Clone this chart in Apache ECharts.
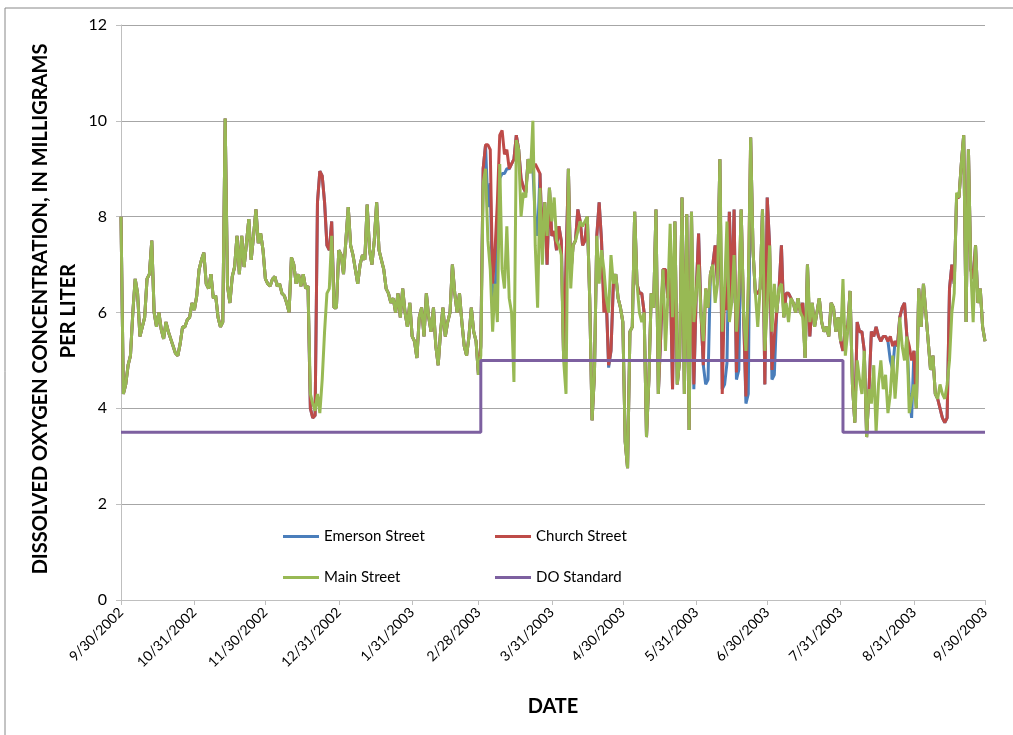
<!DOCTYPE html>
<html>
<head>
<meta charset="utf-8">
<script src="https://cdn.jsdelivr.net/npm/echarts@6/dist/echarts.min.js"></script>
<style>
  html, body { margin: 0; padding: 0; background: #fff; }
  #chart { width: 1013px; height: 735px; }
</style>
</head>
<body>
<div id="chart"></div>
<script>
// x ticks (month ends)
const monthEnds = ['9/30/2002', '10/31/2002', '11/30/2002', '12/31/2002', '1/31/2003', '2/28/2003',
  '3/31/2003', '4/30/2003', '5/31/2003', '6/30/2003', '7/31/2003', '8/31/2003', '9/30/2003'];

// one category per day, 9/30/2002 .. 9/30/2003
const dates = [];
for (let i = 0; i < 366; i++) {
  const d = new Date(2002, 8, 30 + i);
  dates.push((d.getMonth() + 1) + '/' + d.getDate() + '/' + d.getFullYear());
}

const mainStreet = [
  8.0, 4.3, 4.5, 4.9, 5.1, 6.0, 6.7, 6.4, 5.5, 5.7,
  5.9, 6.7, 6.8, 7.5, 6.0, 5.7, 6.0, 5.65, 5.45, 5.8,
  5.6, 5.45, 5.3, 5.15, 5.1, 5.35, 5.7, 5.7, 5.85, 5.9,
  6.2, 6.05, 6.35, 6.9, 7.1, 7.25, 6.6, 6.5, 6.8, 6.3,
  6.35, 5.9, 5.7, 5.8, 10.05, 6.55, 6.2, 6.75, 6.95, 7.6,
  6.8, 7.6, 6.95, 7.45, 7.95, 7.1, 7.6, 8.15, 7.45, 7.65,
  7.3, 6.7, 6.6, 6.55, 6.7, 6.75, 6.55, 6.6, 6.4, 6.35,
  6.2, 6.0, 7.15, 7.0, 6.6, 6.8, 6.55, 6.8, 6.5, 6.55,
  4.3, 4.1, 3.95, 4.3, 3.9, 4.6, 5.6, 6.4, 6.5, 7.6,
  6.1, 6.1, 7.3, 7.2, 6.8, 7.5, 8.2, 7.4, 7.2, 6.9,
  6.6, 7.0, 7.2, 7.1, 8.25, 7.3, 7.0, 7.5, 8.3, 7.3,
  7.1, 6.9, 6.5, 6.4, 6.2, 6.3, 6.0, 6.4, 5.9, 6.5,
  6.0, 5.7, 6.2, 5.5, 5.4, 5.05, 5.9, 6.1, 5.5, 6.4,
  5.9, 5.6, 6.1, 5.3, 4.9, 5.6, 6.1, 5.5, 5.8, 6.0,
  7.0, 6.4, 6.0, 6.4, 5.8, 5.3, 5.1, 5.5, 6.1, 5.6,
  5.4, 4.7, 5.1, 8.7, 9.0, 7.5, 6.9, 5.6, 6.6, 5.8,
  9.1, 6.9, 6.5, 7.8, 6.3, 6.0, 4.55, 9.6, 9.4, 8.0,
  8.5, 8.4, 9.2, 8.9, 10.0, 7.4, 6.1, 8.6, 7.0, 8.3,
  7.6, 8.6, 7.9, 8.4, 7.5, 7.4, 7.2, 5.0, 4.3, 9.0,
  6.5, 7.4, 7.5, 7.7, 7.9, 7.8, 7.9, 8.0, 6.3, 3.75,
  4.7, 7.6, 6.6, 7.3, 6.9, 6.3, 6.0, 7.2, 6.6, 6.8,
  6.3, 6.1, 5.8, 3.3, 2.75, 5.6, 5.7, 8.1, 6.6, 6.0,
  5.8, 6.0, 3.4, 4.6, 6.4, 6.1, 8.15, 4.3, 6.1, 6.9,
  5.2, 6.3, 7.85, 5.9, 7.9, 4.5, 5.0, 8.4, 4.3, 8.05,
  3.55, 8.1, 5.8, 6.4, 7.0, 6.0, 5.4, 6.5, 6.1, 6.8,
  7.0, 6.2, 6.6, 9.2, 5.6, 6.5, 7.9, 5.8, 6.2, 7.2,
  5.6, 6.4, 8.15, 6.0, 5.2, 6.5, 9.65, 7.3, 6.4, 5.7,
  6.5, 8.15, 5.2, 6.1, 7.4, 5.6, 6.6, 6.0, 6.5, 6.6,
  5.9, 6.2, 5.8, 6.3, 6.2, 6.0, 6.3, 6.0, 5.9, 5.05,
  7.0, 5.8, 6.2, 5.7, 6.0, 6.3, 5.8, 5.6, 5.7, 5.5,
  6.2, 6.1, 5.6, 5.9, 5.4, 6.7, 5.1, 5.6, 6.45, 4.5,
  3.7, 5.0, 4.6, 4.3, 5.2, 3.4, 4.4, 4.1, 4.9, 3.5,
  4.5, 5.0, 4.4, 4.7, 3.9, 4.3, 5.1, 4.2, 4.9, 5.9,
  5.3, 5.0, 5.5, 3.9, 4.2, 4.5, 4.0, 6.5, 5.7, 6.6,
  6.0, 5.4, 4.8, 5.1, 4.3, 4.2, 4.5, 4.3, 4.2, 4.5,
  5.0, 6.0, 6.4, 8.5, 8.4, 9.1, 9.7, 5.8, 9.4, 6.9,
  5.8, 7.4, 6.2, 6.5, 5.7, 5.4
];

const churchStreet = [
  8.0, 4.3, 4.5, 4.9, 5.1, 6.0, 6.7, 6.4, 5.5, 5.7,
  5.9, 6.7, 6.8, 7.5, 6.0, 5.7, 6.0, 5.65, 5.45, 5.8,
  5.6, 5.45, 5.3, 5.15, 5.1, 5.35, 5.7, 5.7, 5.85, 5.9,
  6.2, 6.05, 6.35, 6.9, 7.1, 7.25, 6.6, 6.5, 6.8, 6.3,
  6.35, 5.9, 5.7, 5.8, 10.05, 6.55, 6.2, 6.75, 6.95, 7.6,
  6.8, 7.6, 6.95, 7.45, 7.95, 7.1, 7.6, 8.15, 7.45, 7.65,
  7.3, 6.7, 6.6, 6.55, 6.7, 6.75, 6.55, 6.6, 6.4, 6.35,
  6.2, 6.0, 7.15, 7.0, 6.6, 6.8, 6.55, 6.8, 6.5, 6.55,
  4.0, 3.8, 3.85, 8.3, 8.95, 8.85, 8.3, 7.4, 7.3, 7.9,
  6.1, 6.1, 7.3, 7.2, 6.8, 7.5, 8.2, 7.4, 7.2, 6.9,
  6.6, 7.0, 7.2, 7.1, 8.25, 7.3, 7.0, 7.5, 8.3, 7.3,
  7.1, 6.9, 6.5, 6.4, 6.2, 6.3, 6.0, 6.4, 5.9, 6.5,
  6.0, 5.7, 6.2, 5.5, 5.4, 5.05, 5.9, 6.1, 5.5, 6.4,
  5.9, 5.6, 6.1, 5.3, 4.9, 5.6, 6.1, 5.5, 5.8, 6.0,
  7.0, 6.4, 6.0, 6.4, 5.8, 5.3, 5.1, 5.5, 6.1, 5.6,
  5.4, 4.7, 5.3, 9.0, 9.5, 9.5, 9.4, 6.6, 7.3, 8.3,
  9.7, 9.8, 9.3, 9.4, 9.0, 9.1, 9.2, 9.7, 9.4, 8.8,
  8.6, 8.5, 9.2, 9.0, 9.0, 9.1, 9.0, 8.9, 7.4, 8.3,
  7.0, 8.6, 7.6, 7.7, 7.3, 7.8, 7.5, 5.0, 7.0, 9.0,
  6.8, 7.4, 7.5, 8.15, 7.9, 7.4, 7.5, 8.0, 6.3, 3.75,
  4.7, 7.6, 8.3, 7.5, 6.0, 6.3, 4.9, 5.2, 6.6, 6.8,
  6.3, 6.1, 5.8, 3.3, 2.75, 5.6, 5.7, 8.1, 6.6, 6.4,
  6.4, 6.0, 3.4, 4.6, 6.4, 6.1, 8.15, 4.3, 5.5, 6.9,
  6.9, 6.3, 6.9, 4.4, 7.9, 4.5, 5.0, 8.4, 4.3, 8.05,
  3.55, 8.1, 4.5, 6.4, 7.65, 6.0, 4.9, 6.5, 6.1, 6.8,
  7.0, 7.4, 6.6, 9.2, 4.3, 6.5, 6.05, 8.1, 6.2, 8.15,
  4.75, 6.4, 8.15, 6.0, 4.25, 6.5, 9.65, 7.3, 6.4, 6.4,
  6.5, 8.15, 4.5, 8.4, 7.4, 4.8, 5.5, 6.0, 6.5, 7.4,
  5.9, 6.4, 6.4, 6.3, 6.2, 6.0, 6.3, 6.0, 6.2, 5.05,
  7.0, 5.5, 6.2, 5.7, 6.0, 6.3, 5.8, 5.6, 5.7, 5.5,
  6.2, 6.1, 5.6, 5.9, 5.4, 5.2, 5.7, 5.7, 6.45, 4.5,
  3.7, 5.8, 5.6, 5.6, 5.2, 3.4, 4.4, 5.6, 5.5, 5.7,
  5.5, 5.4, 5.5, 5.5, 5.4, 5.5, 5.3, 5.4, 5.3, 5.9,
  6.1, 6.2, 5.5, 5.3, 5.0, 5.2, 4.0, 6.5, 5.7, 6.6,
  6.0, 5.4, 4.8, 5.1, 4.3, 4.2, 4.0, 3.8, 3.7, 3.8,
  6.5, 7.0, 6.6, 8.4, 8.4, 9.1, 9.7, 5.8, 9.4, 6.9,
  6.7, 7.4, 6.2, 6.5, 5.7, 5.4
];

const emersonStreet = [
  8.0, 4.3, 4.5, 4.9, 5.1, 6.0, 6.7, 6.4, 5.5, 5.7,
  5.9, 6.7, 6.8, 7.5, 6.0, 5.7, 6.0, 5.65, 5.45, 5.8,
  5.6, 5.45, 5.3, 5.15, 5.1, 5.35, 5.7, 5.7, 5.85, 5.9,
  6.2, 6.05, 6.35, 6.9, 7.1, 7.25, 6.6, 6.5, 6.8, 6.3,
  6.35, 5.9, 5.7, 5.8, 10.05, 6.55, 6.2, 6.75, 6.95, 7.6,
  6.8, 7.6, 6.95, 7.45, 7.95, 7.1, 7.6, 8.15, 7.45, 7.65,
  7.3, 6.7, 6.6, 6.55, 6.7, 6.75, 6.55, 6.6, 6.4, 6.35,
  6.2, 6.0, 7.15, 7.0, 6.6, 6.8, 6.55, 6.8, 6.5, 6.55,
  4.0, 3.8, 3.85, 8.3, 8.95, 8.85, 8.3, 7.4, 7.3, 7.9,
  6.1, 6.1, 7.3, 7.2, 6.8, 7.5, 8.2, 7.4, 7.2, 6.9,
  6.6, 7.0, 7.2, 7.1, 8.25, 7.3, 7.0, 7.5, 8.3, 7.3,
  7.1, 6.9, 6.5, 6.4, 6.2, 6.3, 6.0, 6.4, 5.9, 6.5,
  6.0, 5.7, 6.2, 5.5, 5.4, 5.05, 5.9, 6.1, 5.5, 6.4,
  5.9, 5.6, 6.1, 5.3, 4.9, 5.6, 6.1, 5.5, 5.8, 6.0,
  7.0, 6.4, 6.0, 6.4, 5.8, 5.3, 5.1, 5.5, 6.1, 5.6,
  5.4, 4.7, 5.3, 9.0, 9.5, 8.2, 8.7, 6.2, 6.4, 7.5,
  8.8, 8.9, 8.9, 9.0, 9.0, 9.1, 9.2, 9.7, 9.4, 8.8,
  8.6, 8.5, 9.2, 9.0, 9.0, 8.0, 7.6, 8.9, 7.4, 8.3,
  7.0, 8.6, 7.6, 7.7, 7.3, 7.8, 7.5, 5.0, 7.0, 9.0,
  6.8, 7.4, 7.5, 8.15, 7.9, 7.4, 7.5, 8.0, 6.3, 3.75,
  4.7, 7.6, 8.3, 7.5, 6.2, 6.3, 4.85, 5.2, 6.6, 6.8,
  6.3, 6.1, 5.8, 3.3, 2.75, 5.6, 5.7, 8.1, 6.6, 6.4,
  6.4, 6.0, 3.4, 4.6, 6.4, 6.1, 8.15, 4.3, 5.5, 6.9,
  6.9, 6.3, 6.9, 4.4, 7.9, 4.5, 5.0, 8.4, 4.3, 8.05,
  3.55, 8.1, 4.4, 6.4, 7.65, 6.0, 4.9, 4.5, 4.6, 6.8,
  7.0, 7.4, 6.6, 9.2, 4.4, 4.5, 4.95, 8.1, 6.2, 8.15,
  4.6, 4.8, 8.15, 6.0, 4.1, 4.3, 9.65, 7.3, 6.4, 6.4,
  6.5, 8.15, 4.5, 8.4, 7.4, 4.6, 4.7, 6.0, 6.5, 7.4,
  5.9, 6.4, 6.4, 6.3, 6.2, 6.0, 6.3, 6.0, 6.2, 5.05,
  7.0, 5.5, 6.2, 5.7, 6.0, 6.3, 5.8, 5.6, 5.7, 5.5,
  6.2, 6.1, 5.6, 5.9, 5.4, 5.2, 5.7, 5.7, 6.45, 4.5,
  3.7, 5.8, 5.6, 5.6, 5.2, 3.4, 4.4, 5.6, 5.5, 5.7,
  5.5, 5.4, 5.5, 5.5, 5.4, 5.0, 4.8, 5.4, 5.3, 5.9,
  6.1, 6.2, 5.5, 4.3, 3.8, 5.2, 4.0, 6.5, 5.7, 6.6,
  6.0, 5.4, 4.8, 5.1, 4.3, 4.2, 4.0, 3.8, 3.7, 3.8,
  6.5, 7.0, 6.6, 8.4, 8.4, 9.1, 9.7, 5.8, 9.4, 6.9,
  6.7, 7.4, 6.2, 6.5, 5.7, 5.4
];

// DO standard breakpoints
const doStandard = [
  ['9/30/2002', 3.5], ['3/1/2003', 3.5], ['3/1/2003', 5],
  ['8/1/2003', 5], ['8/1/2003', 3.5], ['9/30/2003', 3.5]
];

const FONT = 'Lato, "Open Sans", sans-serif';
const isMonthEnd = (i, v) => monthEnds.indexOf(v) >= 0;

const chart = echarts.init(document.getElementById('chart'));

function legendItem(name, left, top) {
  return {
    data: [name],
    left: left,
    top: top,
    icon: 'rect',
    itemWidth: 36,
    itemHeight: 3,
    itemGap: 6,
    textStyle: { fontFamily: FONT, fontSize: 15, color: '#000' }
  };
}

function lineSeries(name, data, color) {
  return {
    name: name,
    type: 'line',
    data: data,
    symbol: 'none',
    lineStyle: { color: color, width: 3 },
    itemStyle: { color: color }
  };
}

const option = {
  animation: false,
  backgroundColor: '#fff',
  grid: { left: 121, right: 28, top: 25, bottom: 135 },
  legend: [
    legendItem('Emerson Street', 278, 524),
    legendItem('Church Street', 490, 524),
    legendItem('Main Street', 278, 565),
    legendItem('DO Standard', 490, 565)
  ],
  xAxis: {
    type: 'category',
    data: dates,
    boundaryGap: false,
    axisLine: { lineStyle: { color: '#bfbfbf', width: 1 } },
    axisTick: { interval: isMonthEnd, length: 5, lineStyle: { color: '#bfbfbf' } },
    axisLabel: { interval: isMonthEnd, rotate: 45, margin: 10, fontFamily: FONT, fontSize: 14, color: '#000' },
    splitLine: { show: false }
  },
  yAxis: {
    type: 'value',
    min: 0,
    max: 12,
    interval: 2,
    axisLine: { show: true, lineStyle: { color: '#bfbfbf' } },
    axisTick: { show: true, length: 5, lineStyle: { color: '#bfbfbf' } },
    axisLabel: { margin: 14, fontFamily: FONT, fontSize: 16, color: '#000' },
    splitLine: { lineStyle: { color: '#a6a6a6' } }
  },
  series: [
    lineSeries('Emerson Street', emersonStreet, '#4a7ebb'),
    lineSeries('Church Street', churchStreet, '#be4b48'),
    lineSeries('Main Street', mainStreet, '#98b954'),
    lineSeries('DO Standard', doStandard, '#7d60a0')
  ],
  graphic: [
    { type: 'line', shape: { x1: 5, y1: 8, x2: 1013, y2: 8 }, style: { stroke: '#888', lineWidth: 1 } },
    { type: 'line', shape: { x1: 5, y1: 8, x2: 5, y2: 735 }, style: { stroke: '#888', lineWidth: 1 } },
    {
      type: 'text', x: 41, y: 309, rotation: Math.PI / 2,
      style: { text: 'DISSOLVED OXYGEN CONCENTRATION, IN MILLIGRAMS', align: 'center', verticalAlign: 'middle',
        font: 'bold 20px ' + FONT, fill: '#000' }
    },
    {
      type: 'text', x: 69, y: 311, rotation: Math.PI / 2,
      style: { text: 'PER LITER', align: 'center', verticalAlign: 'middle', font: 'bold 20px ' + FONT, fill: '#000' }
    },
    {
      type: 'text', x: 553, y: 707,
      style: { text: 'DATE', align: 'center', verticalAlign: 'middle', font: 'bold 20px ' + FONT, fill: '#000' }
    }
  ]
};

chart.setOption(option);
</script>
</body>
</html>
